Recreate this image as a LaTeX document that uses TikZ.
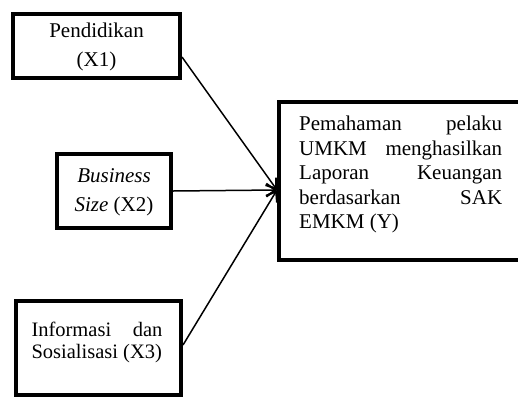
\documentclass[tikz,border=0pt]{standalone}
\usepackage{fontspec}
\setmainfont{Liberation Serif}
\usetikzlibrary{arrows.meta}
\begin{document}
\begin{tikzpicture}[x=1pt,y=-1pt,
  boxstyle/.style={draw, line width=4pt, minimum width=#1, inner sep=0pt},
  txt/.style={inner sep=0pt, align=center, font=\fontsize{21}{29}\selectfont},
  conn/.style={line width=1.5pt, -{Straight Barb[length=9pt,width=13pt,line width=2pt]}}]
\useasboundingbox (0,0) rectangle (518,399);
\node[boxstyle=167pt, minimum height=64pt] (b1) at (96.5,46) {};
\node[boxstyle=114pt, minimum height=74pt] (b2) at (114,191) {};
\node[boxstyle=165pt, minimum height=94pt] (b3) at (98.5,348) {};
\node[boxstyle=261pt, minimum height=158pt] (y) at (409.5,181) {};
\node[txt] (t1) at (96.5,47) {Pendidikan\\(X1)};
\node[txt] (t2) at (114,192) {\textit{Business}\\\textit{Size} (X2)};
\node[txt, text width=131pt, align=justify, font=\fontsize{20.5}{22}\selectfont] (t3) at (97,342) {Informasi dan Sosialisasi (X3)};
\node[txt, text width=203pt, align=justify, font=\fontsize{21}{24.5}\selectfont, anchor=north west] (ty) at (299,116) {Pemahaman pelaku UMKM menghasilkan Laporan Keuangan berdasarkan SAK EMKM (Y)};
\draw[conn] ([yshift=-11pt]b1.east) -- ([yshift=-9pt]y.west);
\draw[conn] (b2.east) -- ([yshift=-9pt]y.west);
\draw[conn] ([yshift=3pt]b3.east) -- ([yshift=-9pt]y.west);
\end{tikzpicture}
\end{document}
